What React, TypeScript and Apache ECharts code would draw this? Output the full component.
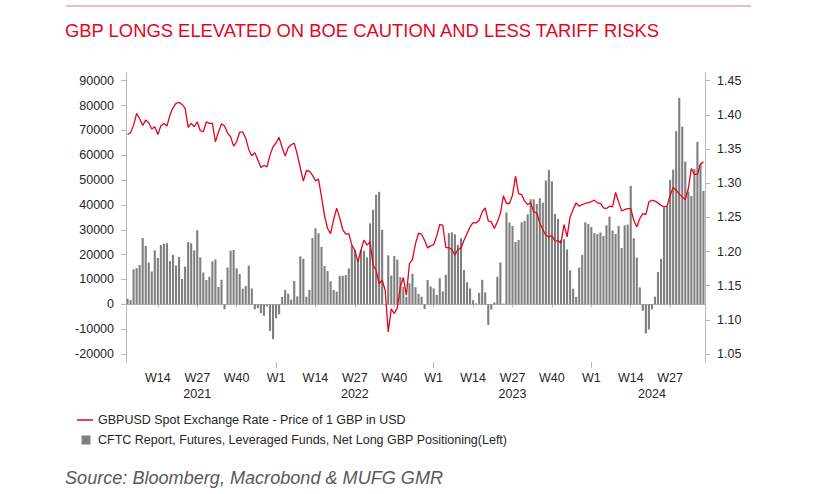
import React, { useEffect, useRef } from "react";
import * as echarts from "echarts";

const TITLE = "GBP LONGS ELEVATED ON BOE CAUTION AND LESS TARIFF RISKS";
const SOURCE = "Source: Bloomberg, Macrobond & MUFG GMR";
const LINE_NAME = "GBPUSD Spot Exchange Rate - Price of 1 GBP in USD";
const BAR_NAME = "CFTC Report, Futures, Leveraged Funds, Net Long GBP Positioning(Left)";

// weekly observations, first one is 2021 W4
const FIRST_YEAR = 2021;
const FIRST_WEEK = 4;
const WEEKS_PER_YEAR = 52;

// CFTC leveraged funds net long GBP (contracts), left axis
const positioning = [
  2300, 1700, 14100, 14600, 15800, 26700, 23500, 16800, 13200, 21700,
  18700, 23800, 24400, 24600, 17400, 19900, 15600, 19100, 10200, 15200,
  25100, 24600, 21700, 29800, 18900, 12800, 9800, 11100, 17300, 18100,
  7000, 9900, -2000, 14800, 21600, 21900, 14500, 12200, 6300, 7400,
  15600, 6400, -2000, -1500, -3600, -4600, -800, -10700, -14000, -5600,
  -4000, 2950, 5800, 4300, 1900, 9400, 3200, 19300, 18300, 3100,
  5800, 26700, 30600, 28600, 23100, 15400, 13400, 9300, 5800, 5100,
  11500, 11500, 11800, 14500, 23600, 21900, 18100, 22000, 21500, 18900,
  32600, 38000, 44100, 45300, 30000, 0, 19700, 11600, 19500, 18000,
  11000, 7100, 3000, 8500, 12300, 6900, 4200, 3100, -1900, 9800,
  7200, 6400, 3800, 10500, 5200, 11900, 28700, 29000, 28200, 23900,
  26600, 13800, 8900, 6400, 1700, 400, 4600, 9900, 4800, -8300,
  -2100, 800, 11100, 16900, 300, 37000, 32900, 31500, 25100, 25900,
  33000, 33600, 36200, 42300, 42300, 40400, 42700, 40900, 49800, 54100,
  49500, 36400, 34400, 25900, 26200, 22100, 13700, 6300, 3000, 14800,
  19900, 33000, 32300, 31100, 28600, 28300, 28900, 27500, 31800, 35300,
  29700, 28300, 31500, 22700, 31800, 32100, 47700, 26600, 18800, 6800,
  -2600, -11700, -10100, -2000, 3100, 13000, 18300, 39000, 39300, 50100,
  54200, 69700, 83100, 71500, 57400, 45400, 43600, 54500, 65400, 56500,
  45600,
];

// GBPUSD spot, right axis
const gbpusd = [
  1.3714, 1.3738, 1.385, 1.4021, 1.3943, 1.3846, 1.3924, 1.3885, 1.3792, 1.3826,
  1.3714, 1.3841, 1.3875, 1.3836, 1.3997, 1.4104, 1.4168, 1.4183, 1.4153, 1.4094,
  1.3816, 1.3875, 1.3826, 1.3899, 1.3768, 1.3753, 1.3899, 1.3875, 1.3875, 1.3606,
  1.3748, 1.387, 1.3836, 1.3738, 1.368, 1.3543, 1.3606, 1.3748, 1.3748, 1.3655,
  1.3494, 1.3401, 1.3445, 1.3338, 1.323, 1.326, 1.324, 1.3411, 1.3533, 1.3592,
  1.367, 1.3523, 1.3396, 1.3519, 1.3563, 1.3587, 1.3421, 1.3226, 1.303, 1.3182,
  1.3177, 1.3118, 1.3035, 1.306, 1.2801, 1.2522, 1.2337, 1.2263, 1.2469, 1.2635,
  1.2493, 1.2322, 1.2254, 1.2263, 1.2093, 1.2019, 1.1849, 1.2019, 1.2166, 1.2093,
  1.2141, 1.18, 1.1727, 1.1531, 1.158, 1.1434, 1.0823, 1.116, 1.1092, 1.1179,
  1.1482, 1.1619, 1.136, 1.1824, 1.1883, 1.2116, 1.227, 1.225, 1.2166, 1.2053,
  1.2083, 1.2102, 1.2229, 1.2395, 1.2385, 1.2058, 1.2058, 1.2029, 1.1946, 1.2034,
  1.2043, 1.2166, 1.2263, 1.236, 1.2424, 1.2419, 1.2458, 1.258, 1.2639, 1.245,
  1.2434, 1.2337, 1.2434, 1.2556, 1.2815, 1.2703, 1.2703, 1.2825, 1.3104, 1.2849,
  1.2834, 1.2737, 1.2688, 1.2712, 1.258, 1.2566, 1.2419, 1.2322, 1.2239, 1.2214,
  1.2234, 1.2156, 1.2156, 1.2127, 1.2395, 1.2214, 1.2507, 1.2615, 1.2712, 1.2663,
  1.2688, 1.2703, 1.2717, 1.2732, 1.2751, 1.2712, 1.2703, 1.2639, 1.2629, 1.2663,
  1.2654, 1.2864, 1.2727, 1.2595, 1.2615, 1.2629, 1.2629, 1.2458, 1.236, 1.2483,
  1.2556, 1.2541, 1.2727, 1.2751, 1.2737, 1.2712, 1.2678, 1.2654, 1.2663, 1.2825,
  1.2937, 1.2898, 1.2839, 1.28, 1.2761, 1.2922, 1.3216, 1.3128, 1.3128, 1.3279,
  1.3313,
];

const weekTickNumbers = [1, 14, 27, 40];
const yearTickWeek = 1;
const yearLabelAt = ["2021-W27", "2022-W27", "2023-W27", "2024-W21"];
const leftTicks = [-20000, -10000, 0, 10000, 20000, 30000, 40000, 50000, 60000, 70000, 80000, 90000];
const rightTicks = [1.05, 1.1, 1.15, 1.2, 1.25, 1.3, 1.35, 1.4, 1.45];

function buildWeeks(n: number): string[] {
  const out: string[] = [];
  let y = FIRST_YEAR;
  let w = FIRST_WEEK;
  for (let i = 0; i < n; i++) {
    out.push(`${y}-W${String(w).padStart(2, "0")}`);
    w++;
    if (w > WEEKS_PER_YEAR) {
      w = 1;
      y++;
    }
  }
  return out;
}

const weeks = buildWeeks(positioning.length);
const weekNum = (c: string) => parseInt(c.split("-W")[1], 10);

const FONT = "'Liberation Sans', Arial, Helvetica, sans-serif";
const RED = "#e4051c";
const AXIS = "#b8b8b8";
const TEXT = "#262626";

export default function App() {
  const ref = useRef<HTMLDivElement>(null);
  useEffect(() => {
    if (!ref.current) return;
    const chart = echarts.init(ref.current, undefined, { renderer: "svg" });
    const option: any = {
      animation: false,
      backgroundColor: "#ffffff",
      textStyle: { fontFamily: FONT },
      title: [
        {
          text: TITLE,
          left: 65,
          top: 21,
          padding: 0,
          textStyle: { color: RED, fontSize: 18.4, fontWeight: "normal", fontFamily: FONT },
        },
        {
          text: SOURCE,
          left: 65,
          top: 469,
          padding: 0,
          textStyle: { color: "#595959", fontSize: 18.1, fontStyle: "italic", fontWeight: "normal", fontFamily: FONT },
        },
      ],
      graphic: [
        {
          type: "line",
          shape: { x1: 66, y1: 6, x2: 751, y2: 6 },
          style: { stroke: "#f0a2aa", lineWidth: 1.5 },
          silent: true,
        },
      ],
      legend: [
        {
          data: [{ name: LINE_NAME, icon: "path://M0,0H32V3H0Z" }],
          left: 77,
          top: 413.5,
          padding: 0,
          itemWidth: 16,
          itemHeight: 10,
          textStyle: { color: TEXT, fontSize: 12.5, fontFamily: FONT },
        },
        {
          data: [BAR_NAME],
          left: 81.5,
          top: 433.5,
          padding: 0,
          icon: "rect",
          itemWidth: 9,
          itemHeight: 9,
          textStyle: { color: TEXT, fontSize: 12.5, fontFamily: FONT, padding: [0, 0, 0, 2.5] },
        },
      ],
      grid: { left: 126, right: 113, top: 73, bottom: 132, containLabel: false },
      xAxis: [
        {
          type: "category",
          data: weeks,
          boundaryGap: true,
          axisLine: { show: true, lineStyle: { color: AXIS, width: 1 } },
          axisTick: {
            show: true,
            alignWithLabel: true,
            length: 3,
            lineStyle: { color: AXIS },
            interval: (_i: number, v: string) => weekTickNumbers.includes(weekNum(v)),
          },
          axisLabel: {
            show: true,
            color: TEXT,
            fontSize: 12.5,
            fontFamily: FONT,
            margin: 9,
            interval: (_i: number, v: string) => weekTickNumbers.includes(weekNum(v)),
            formatter: (v: string) => "W" + weekNum(v),
          },
          splitLine: { show: false },
        },
        {
          type: "category",
          data: weeks,
          position: "bottom",
          boundaryGap: true,
          axisLine: { show: false },
          axisTick: {
            show: true,
            alignWithLabel: true,
            length: 6,
            lineStyle: { color: AXIS },
            interval: (_i: number, v: string) => weekNum(v) === yearTickWeek,
          },
          axisLabel: {
            show: true,
            color: TEXT,
            fontSize: 12.5,
            fontFamily: FONT,
            margin: 25,
            interval: (_i: number, v: string) => yearLabelAt.includes(v),
            formatter: (v: string) => v.split("-W")[0],
          },
          splitLine: { show: false },
        },
      ],
      yAxis: [
        {
          type: "value",
          position: "left",
          min: -23200,
          max: 93100,
          axisLine: { show: true, lineStyle: { color: AXIS } },
          axisTick: { show: true, length: 5, lineStyle: { color: AXIS }, customValues: leftTicks },
          axisLabel: {
            color: TEXT,
            fontSize: 12.5,
            fontFamily: FONT,
            margin: 12,
            customValues: leftTicks,
            formatter: (v: number) => String(v),
          },
          splitLine: { show: false },
        },
        {
          type: "value",
          position: "right",
          min: 1.0383,
          max: 1.4613,
          axisLine: { show: true, lineStyle: { color: AXIS } },
          axisTick: { show: true, length: 5, lineStyle: { color: AXIS }, customValues: rightTicks },
          axisLabel: {
            color: TEXT,
            fontSize: 12.5,
            fontFamily: FONT,
            margin: 12,
            customValues: rightTicks,
            formatter: (v: number) => v.toFixed(2),
          },
          splitLine: { show: false },
        },
      ],
      series: [
        {
          name: BAR_NAME,
          type: "bar",
          xAxisIndex: 0,
          yAxisIndex: 0,
          data: positioning,
          barWidth: 2.1,
          itemStyle: { color: "#7f7f7f" },
          z: 2,
        },
        {
          name: LINE_NAME,
          type: "line",
          xAxisIndex: 0,
          yAxisIndex: 1,
          data: gbpusd,
          symbol: "none",
          showSymbol: false,
          lineStyle: { color: RED, width: 1.3 },
          itemStyle: { color: RED },
          z: 3,
        },
      ],
    };
    chart.setOption(option);
    return () => chart.dispose();
  }, []);
  return (
    <div
      ref={ref}
      style={{ position: "fixed", left: 0, top: 0, width: 818, height: 494, background: "#fff" }}
    />
  );
}
